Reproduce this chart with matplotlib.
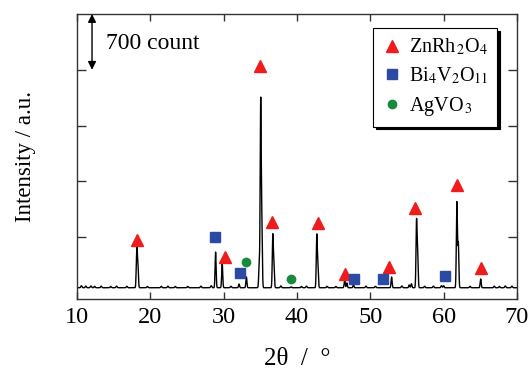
import numpy as np
import matplotlib.pyplot as plt

plt.rcParams['font.family'] = ['Liberation Serif', 'DejaVu Serif']
plt.rcParams['mathtext.fontset'] = 'stix'

# XRD peaks: position (2theta, deg), top intensity (counts)
peak_pos = [18.15, 18.30, 28.9, 29.8, 32.1, 33.1, 34.85, 35.05, 35.2, 36.7, 36.85,
            39.2, 42.7, 42.85, 46.5, 46.8, 47.7, 52.9, 55.3, 55.6, 56.3, 56.45,
            60.0, 61.8, 62.0, 65.05]
peak_top = [625, 440, 587, 450, 187, 275, 425, 2450, 900, 787, 420,
            150, 787, 400, 237, 200, 175, 275, 175, 190, 962, 560,
            165, 1212, 700, 250]
# small bumps in the background
minor_pos = [10.6, 11.2, 11.9, 12.4, 13.3, 14.6, 15.4, 16.8, 19.6, 21.5, 22.4, 23.4,
             25.1, 26.9, 28.3, 31.0, 37.8, 40.6, 41.3, 44.1, 45.3, 49.4, 50.7,
             54.3, 57.4, 58.6, 59.7, 63.6, 66.9, 67.6, 68.4, 69.3]
minor_top = [165, 160, 162, 158, 160, 156, 160, 158, 156, 158, 160, 157,
             156, 160, 165, 158, 162, 156, 160, 158, 156, 160, 158,
             162, 158, 160, 165, 158, 160, 157, 162, 160]
baseline = 140

# phase markers
zn_x = [18.2, 30.2, 35.0, 36.6, 42.8, 46.5, 52.6, 56.1, 61.8, 65.05]
zn_y = [740, 527, 2922, 966, 953, 314, 401, 1141, 1430, 389]
bi_x = [28.8, 32.2, 47.8, 51.7, 60.2]
bi_y = [778, 326, 251, 251, 288]
ag_x = [33.1, 39.2]
ag_y = [464, 251]

tt = np.linspace(10, 70, 6001)
inten = np.full_like(tt, baseline, dtype=float)
for p, h in zip(peak_pos, peak_top):
    inten += (h - baseline) * np.exp(-0.5 * ((tt - p) / 0.07) ** 2)
for p, h in zip(minor_pos, minor_top):
    inten += (h - baseline) * np.exp(-0.5 * ((tt - p) / 0.08) ** 2)

fig = plt.figure(figsize=(5.31, 3.69), dpi=100)
ax = fig.add_axes([0.145, 0.19, 0.8286, 0.772])

ax.plot(tt, inten, color='black', lw=1.0)
ax.plot(zn_x, zn_y, '^', color='#ee1c1c', ms=8.5, ls='none', label=r'ZnRh$_{\,2}$O$_4$')
ax.plot(bi_x, bi_y, 's', color='#2b4aa3', ms=7, ls='none', label=r'Bi$_4$V$_2$O$_{11}$')
ax.plot(ag_x, ag_y, 'o', color='#178a3c', ms=6, ls='none', label=r'AgVO$_{\,3}$')

ax.set_xlim(10, 70)
ax.set_ylim(0, 3575)
ax.set_xticks(range(10, 71, 10))
ax.set_yticks([775, 1475, 2175, 2875])
ax.set_yticklabels([])
ax.tick_params(direction='in', top=True, right=True, labelsize=17.5, width=1, color='#333333')
ax.tick_params(axis='x', length=5, pad=6)
ax.tick_params(axis='y', length=6.5)
for s in ax.spines.values():
    s.set_color('#333333')
    s.set_linewidth(1)

ax.set_xlabel('2θ  /  °', fontsize=18, labelpad=14)
ax.set_ylabel('Intensity / a.u.', fontsize=16.5, labelpad=26)

ax.annotate('', xy=(12.05, 3575), xytext=(12.05, 2875),
            arrowprops=dict(arrowstyle='<|-|>', color='black', lw=1,
                            mutation_scale=12, shrinkA=0, shrinkB=0))
ax.text(13.95, 3200, '700 count', fontsize=17, ha='left', va='center')

leg = ax.legend(loc='upper right', bbox_to_anchor=(0.955, 0.951), borderaxespad=0,
                fontsize=14.5, numpoints=1, fancybox=False, edgecolor='black',
                shadow={'color': 'black', 'alpha': 1}, framealpha=1,
                handletextpad=0.3, handlelength=1.0, labelspacing=0.4,
                borderpad=0.45)
leg.get_frame().set_linewidth(0.8)

fig.savefig('out.png', dpi=100)
